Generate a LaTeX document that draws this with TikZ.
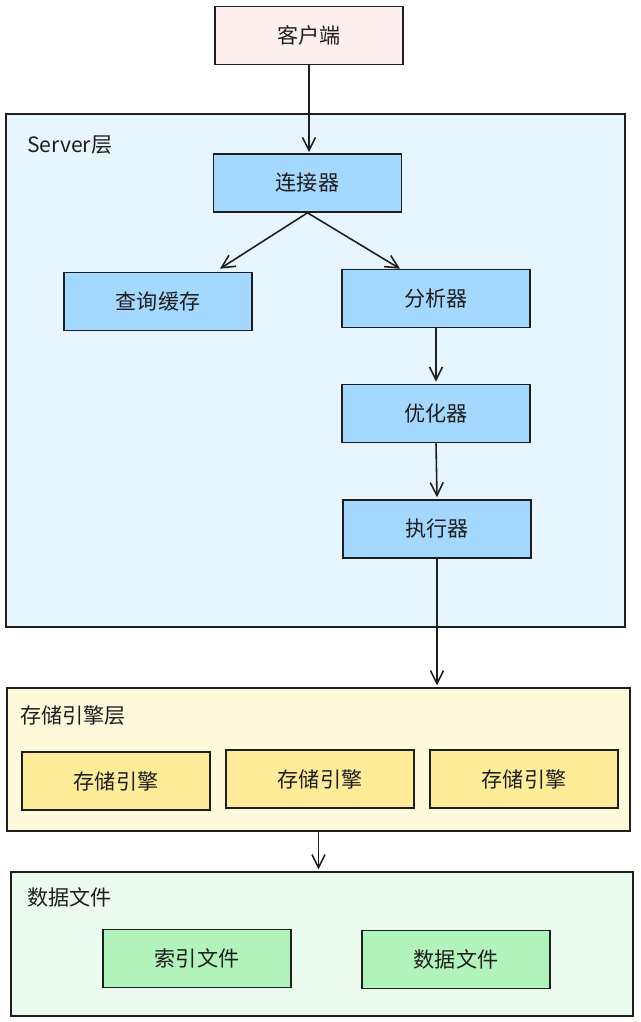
\documentclass[tikz,border=0pt]{standalone}
\usepackage{fontspec}
\setmainfont{Noto Sans CJK SC}
\usetikzlibrary{arrows.meta}
\definecolor{ink}{HTML}{1E1E1E}
\definecolor{clientfill}{HTML}{FFF0F0}
\definecolor{serverbg}{HTML}{E7F5FF}
\definecolor{serverbox}{HTML}{A5D8FF}
\definecolor{storebg}{HTML}{FFF9DB}
\definecolor{storebox}{HTML}{FFEC99}
\definecolor{databg}{HTML}{EBFBEE}
\definecolor{databox}{HTML}{B2F2BB}
\tikzset{
  boxbase/.style={draw=ink, line width=0.9pt, rectangle, inner sep=0pt,
    minimum width=3.76cm, minimum height=1.16cm, font=\fontsize{12}{14}\selectfont, text=ink},
  clientbox/.style={boxbase, fill=clientfill},
  srvbox/.style={boxbase, fill=serverbox},
  stobox/.style={boxbase, fill=storebox},
  datbox/.style={boxbase, fill=databox},
  layer/.style={draw=ink, line width=0.8pt, rectangle, inner sep=0pt},
  layerlabel/.style={anchor=west, inner sep=0pt, font=\fontsize{12}{14}\selectfont, text=ink},
  arr/.style={draw=ink, line width=0.9pt, -{Straight Barb[length=2.6mm,width=2.6mm]}}
}
\begin{document}
\begin{tikzpicture}[x=0.02cm,y=-0.02cm]
\useasboundingbox (0,0) rectangle (640,1022);
% layers
\node[layer, fill=serverbg, minimum width=12.38cm, minimum height=10.26cm] (server) at (315.5,370.5) {};
\node[layerlabel] (serverlbl) at (27,145) {Server层};
\node[layer, fill=storebg, minimum width=12.46cm, minimum height=2.86cm] (store) at (318.5,759.5) {};
\node[layerlabel] (storelbl) at (20,716) {存储引擎层};
\node[layer, fill=databg, minimum width=12.44cm, minimum height=2.88cm] (data) at (322,944) {};
\node[layerlabel] (datalbl) at (27,897) {数据文件};
% nodes
\node[clientbox] (client) at (309,35.5) {客户端};
\node[srvbox] (conn) at (307.5,183) {连接器};
\node[srvbox] (cache) at (158,301.5) {查询缓存};
\node[srvbox] (ana) at (436,298.5) {分析器};
\node[srvbox] (opt) at (436,413.5) {优化器};
\node[srvbox] (exec) at (437,529) {执行器};
\node[stobox] (eng1) at (116,781) {存储引擎};
\node[stobox] (eng2) at (320,779) {存储引擎};
\node[stobox] (eng3) at (524,779) {存储引擎};
\node[datbox] (idx) at (197,958.5) {索引文件};
\node[datbox] (dfile) at (456,959.5) {数据文件};
% connectors
\draw[arr] (client.south) -- ([yshift=0.02cm]conn.north -| client.south);
\draw[arr] (conn.south) -- ([xshift=1.24cm,yshift=0.06cm]cache.north);
\draw[arr] (conn.south) -- ([xshift=-0.72cm]ana.north);
\draw[arr] (ana.south) -- ([yshift=0.04cm]opt.north);
\draw[arr] (opt.south) -- ([yshift=0.04cm]exec.north);
\draw[arr] (exec.south) -- ([yshift=0.04cm]exec.south |- store.north);
\draw[arr] (store.south) -- ([yshift=0.04cm]store.south |- data.north);
\end{tikzpicture}
\end{document}
